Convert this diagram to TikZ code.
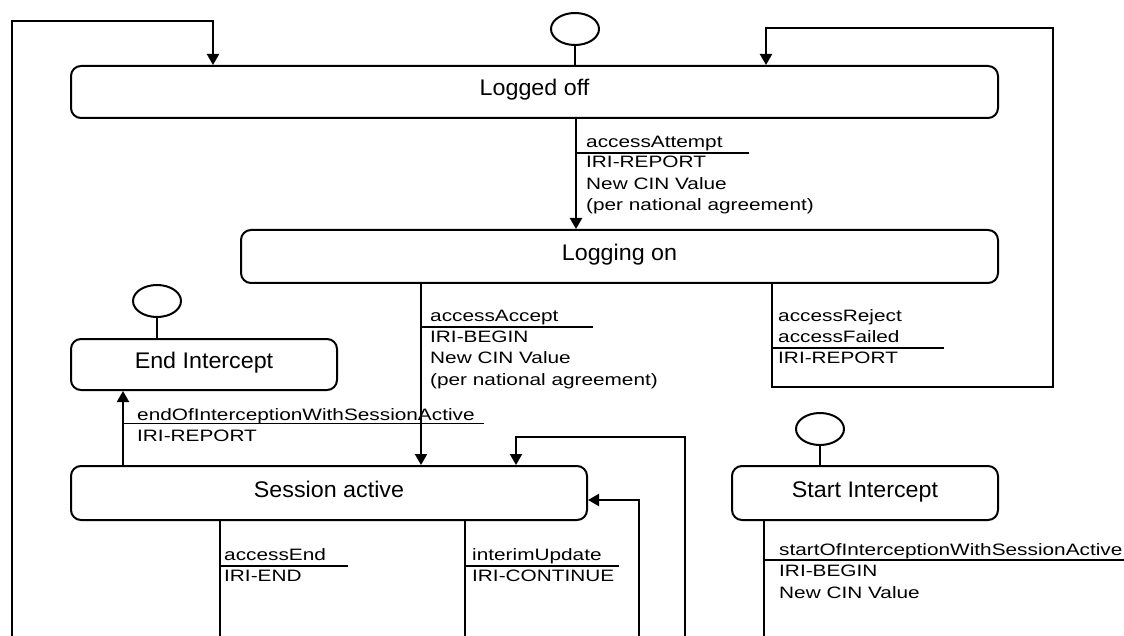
\documentclass[tikz,border=0pt]{standalone}
\usepackage{fontspec}
\setmainfont{Liberation Sans}
\newfontfamily\lblfont[FakeStretch=1.26]{Liberation Sans}
\newfontfamily\stfont[FakeStretch=1.03]{Liberation Sans}
\usetikzlibrary{arrows.meta,shapes.geometric}
\begin{document}
\begin{tikzpicture}[x=1pt,y=-1pt,
  stbox/.style={draw, line width=2pt, rounded corners=10pt, inner sep=0pt,
    text height=16pt, text depth=8pt, font=\stfont\fontsize{22.6}{26}\selectfont},
  initell/.style={draw, ellipse, line width=2pt, minimum width=48pt, minimum height=32pt, inner sep=0pt},
  conn/.style={line width=2.2pt},
  arr/.style={conn, -{Triangle[length=11pt,width=12pt]}},
  lbl/.style={anchor=base west, inner sep=0pt, font=\lblfont\fontsize{16.5}{20}\selectfont},
  sepline/.style={line width=1.6pt}]
\useasboundingbox (0,0) rectangle (1124,636);

% states
\node[stbox, minimum width=927pt, minimum height=52pt] (loggedoff) at (534.5,92) {Logged off};
\node[stbox, minimum width=757pt, minimum height=53pt] (loggingon) at (619.5,256.5) {Logging on};
\node[stbox, minimum width=266pt, minimum height=51pt] (endint) at (204,364.5) {End Intercept};
\node[stbox, minimum width=516pt, minimum height=54pt] (session) at (329,493) {Session active};
\node[stbox, minimum width=266pt, minimum height=54pt] (startint) at (865,493) {Start Intercept};

% initial pseudo states
\node[initell] (i1) at (575,29) {};
\node[initell] (i2) at (157,301) {};
\node[initell] (i3) at (820,429) {};
\draw[conn] (i1.south) -- (i1.south |- loggedoff.north);
\draw[conn] (i2.south) -- (i2.south |- endint.north);
\draw[conn] (i3.south) -- (i3.south |- startint.north);

% coordinates
\coordinate (L0) at (12,640); \coordinate (L1) at (12,21); \coordinate (L2) at (213,21);
\coordinate (xA) at (576,0);
\coordinate (xB) at (421,0);
\coordinate (R1) at (772,387); \coordinate (R2) at (1053,387);
\coordinate (R3) at (1053,28); \coordinate (R4) at (766,28);
\coordinate (xE) at (123,0);
\coordinate (D1) at (220,640);
\coordinate (D2) at (465,640);
\coordinate (U1) at (639,640); \coordinate (U1t) at (639,500);
\coordinate (U2) at (685,640); \coordinate (U2t) at (685,437); \coordinate (U2l) at (516,437);
\coordinate (D3) at (764,640);

% connectors
\draw[arr] (L0) -- (L1) -- (L2) -- (L2 |- loggedoff.north);
\draw[arr] (xA |- loggedoff.south) -- (xA |- loggingon.north);
\draw[arr] (xB |- loggingon.south) -- (xB |- session.north);
\draw[arr] (R1 |- loggingon.south) -- (R1) -- (R2) -- (R3) -- (R4) -- (R4 |- loggedoff.north);
\draw[arr] (xE |- session.north) -- (xE |- endint.south);
\draw[conn] (D1 |- session.south) -- (D1);
\draw[conn] (D2 |- session.south) -- (D2);
\draw[arr] (U1) -- (U1t) -- (U1t -| session.east);
\draw[arr] (U2) -- (U2t) -- (U2l) -- (U2l |- session.north);
\draw[conn] (D3 |- startint.south) -- (D3);

% labels: accessAttempt
\node[lbl] (a1) at (586,148) {accessAttempt};
\node[lbl] (a2) at (586,167.5) {IRI-REPORT};
\node[lbl] (a3) at (586,189.5) {New CIN Value};
\node[lbl] (a4) at (586,211) {(per national agreement)};
\draw[sepline] (576,153) -- (749,153);
% accessAccept
\node[lbl] (b1) at (430,321) {accessAccept};
\node[lbl] (b2) at (430,342) {IRI-BEGIN};
\node[lbl] (b3) at (430,363.5) {New CIN Value};
\node[lbl] (b4) at (430,385) {(per national agreement)};
\draw[sepline] (421,327) -- (593,327);
% accessReject
\node[lbl] (c1) at (778,321) {accessReject};
\node[lbl] (c2) at (778,342) {accessFailed};
\node[lbl] (c3) at (778,363) {IRI-REPORT};
\draw[sepline] (772,348) -- (944,348);
% endOfInterception
\node[lbl] (d1) at (137,420) {endOfInterceptionWithSessionActive};
\node[lbl] (d2) at (137,441) {IRI-REPORT};
\draw[sepline] (123,423.5) -- (484,423.5);
% accessEnd
\node[lbl] (e1) at (224,560) {accessEnd};
\node[lbl] (e2) at (224,581) {IRI-END};
\draw[sepline] (220,566) -- (348,566);
% interimUpdate
\node[lbl] (f1) at (472,560) {interimUpdate};
\node[lbl] (f2) at (472,581) {IRI-CONTINUE};
\draw[sepline] (465,566) -- (619,566);
% startOfInterception
\node[lbl] (g1) at (779,555) {startOfInterceptionWithSessionActive};
\node[lbl] (g2) at (779,576.5) {IRI-BEGIN};
\node[lbl] (g3) at (779,598) {New CIN Value};
\draw[sepline] (764,560) -- (1124,560);
\end{tikzpicture}
\end{document}
